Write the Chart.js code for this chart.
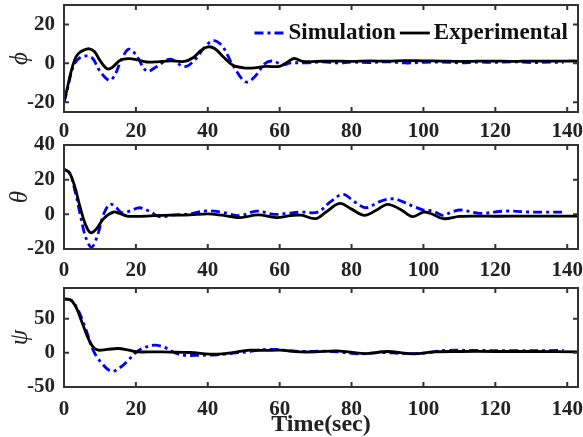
<!DOCTYPE html>
<html>
<head>
<meta charset="UTF-8" />
<title>Attitude angles</title>
<script src="https://cdn.jsdelivr.net/npm/chart.js@4"></script>
<style>
  body { margin: 0; background: #ffffff; }
  #app { position: relative; width: 583px; height: 437px; }
  canvas { position: absolute; left: 0; }
</style>
</head>
<body>
<div id="app">
  <canvas id="chartPhi" width="583" height="140" style="top:0px"></canvas>
  <canvas id="chartTheta" width="583" height="149" style="top:128px"></canvas>
  <canvas id="chartPsi" width="583" height="167" style="top:270px"></canvas>
</div>
<script>
// tick labels
var xTicks = [0, 20, 40, 60, 80, 100, 120, 140];
var phiTicks = [-20, 0, 20];
var thetaTicks = [-20, 0, 20, 40];
var psiTicks = [-50, 0, 50];

var seriesNames = ['Simulation', 'Experimental'];

// phi
var phiSimT = [0, 1, 2, 3, 4.5, 6.5, 8, 10, 12.5, 14, 16, 18, 20, 23, 25.5, 29.5, 33.5, 36.5, 39, 41.5, 44, 47, 50.5, 53, 56, 58, 61, 63, 68, 72, 76, 80, 85, 90, 95, 100, 105, 110, 115, 120, 125, 130, 135, 139];
var phiSim = [-20, -13, -5, 0, 3, 3.8, 2.5, -4, -8.7, -6.5, 2, 7.3, 4.5, -4, -2, 2.2, -1.7, 2, 8, 11.7, 9, -1, -9.5, -7, 0, 1.2, -0.8, 0.2, 0.3, 0.8, 0.2, 0.6, 0.4, 0.8, 0.2, 0.5, 0.7, 0.3, 0.6, 0.5, 0.8, 0.4, 0.6, 0.5];
var phiExpT = [0, 1, 2, 3, 4, 5.5, 7, 8.5, 10, 12, 13.5, 15.5, 18, 20.5, 23, 26, 29.5, 33.5, 36, 38, 40, 42, 44.5, 47, 50, 53, 56, 60, 62, 64, 66.5, 70, 75, 80, 85, 90, 95, 100, 105, 110, 115, 120, 125, 130, 135, 140, 143];
var phiExp = [-20, -12, -4, 2, 5, 6.8, 7.5, 6, 1.5, -2.8, -2, 1.5, 2.4, 1.8, 0.7, 0.8, 1.3, 1, 3, 6.5, 8.5, 7.5, 3, -1, -2.3, -2.3, -1.6, -1.5, 0.5, 2.5, 1, 1, 1.2, 1.0, 1.3, 1.1, 1.4, 1.3, 1.2, 1.0, 1.1, 1.2, 1.0, 1.2, 1.1, 1.2, 1.2];

// theta
var thetaSimT = [0, 1.5, 3, 4.5, 6, 7.7, 9.5, 11, 12.8, 14.5, 16, 18.5, 21, 24, 26.7, 30, 35, 39.6, 44, 49, 53.5, 58.5, 62, 66, 70.6, 74, 77.6, 81, 84, 88, 91.5, 94, 97, 100, 102.5, 105.4, 108, 110.5, 115.6, 123, 130, 134, 139];
var thetaSim = [26, 24, 14, 0, -13, -19, -11, 0, 5.8, 4, 1, 2, 3.8, 1.5, -1.5, -0.5, 0.3, 2, 1.2, -0.8, 1.9, 0, 0.6, 1.3, 1.3, 7, 11.5, 7, 3.8, 7.5, 9, 7.5, 4.8, 2.5, 2, -0.6, 1.5, 2.5, 0.6, 1.9, 1.3, 1.3, 1.3];
var thetaExpT = [0, 1.5, 3, 4.5, 6, 7.4, 9, 11, 13.7, 15.5, 17.5, 20, 25, 30, 35, 40, 44, 49, 54, 59, 63, 66, 70, 73, 76.7, 80, 83.6, 87, 90, 93.5, 97, 100, 102, 105.5, 110, 115, 120, 130, 138, 143];
var thetaExp = [26, 24, 16, 4, -6, -10.6, -8.5, -2.5, 1.3, 0.5, -1, -1.2, -0.8, -0.5, -0.3, 0.3, -0.5, -1.9, -0.3, -1.9, -0.8, -0.5, -2.5, 1.5, 6.3, 3, -0.6, 2.5, 5.8, 3, -1.3, 1.3, 0.5, -2.5, -1.2, -1.0, -1.1, -1.0, -1.0, -1.0];

// psi
var psiSimT = [0, 2, 3.5, 5, 6.5, 8, 10, 13.2, 16, 18, 20.2, 22.5, 25.3, 28, 30.5, 33.1, 38, 42.4, 47, 51, 55, 59, 63, 67, 72, 76, 82, 88, 95, 100, 106, 115, 125, 139];
var psiSim = [79, 77, 67, 50, 28, 5, -12, -27, -20, -10, 1.5, 8, 11.3, 8, 1, -3.4, -3.5, -3, -0.5, 1.5, 4.5, 5, 3, 2, 2.5, 1.5, -1.5, 0.5, -1, -0.5, 3.5, 3.5, 3.2, 3.5];
var psiExpT = [0, 2, 3.5, 5, 6.5, 8, 9.5, 12, 15, 18, 20.2, 25, 30, 35, 42.4, 47, 51.7, 56, 60, 65.6, 70, 76, 83.6, 90, 97, 103, 110, 120, 130, 143];
var psiExp = [79, 77, 65, 45, 24, 9, 4, 5, 6.4, 4, 1.5, 1.5, 1.2, 0.5, -2, 0.5, 4, 3.5, 4, 1.5, 1.5, 3, -1, 2, -1.5, 1.5, 2, 2, 2, 1.5];

var serif = "'Liberation Serif', 'Times New Roman', serif";
var inkColor = '#222222';
var frameColor = '#333333';

function pts(t, v) {
  return t.map(function (x, i) { return { x: x, y: v[i] }; });
}

// box round the plot with ticks pointing inward on all four sides
var framePlugin = {
  id: 'frame',
  afterDraw: function (chart) {
    var ctx = chart.ctx, a = chart.chartArea;
    var xs = chart.scales.x, ys = chart.scales.y;
    ctx.save();
    ctx.strokeStyle = frameColor;
    ctx.lineWidth = 2;
    ctx.beginPath();
    xs.ticks.forEach(function (t) {
      var px = xs.getPixelForValue(t.value);
      ctx.moveTo(px, a.bottom); ctx.lineTo(px, a.bottom - 5);
      ctx.moveTo(px, a.top); ctx.lineTo(px, a.top + 5);
    });
    ys.ticks.forEach(function (t) {
      var py = ys.getPixelForValue(t.value);
      ctx.moveTo(a.left, py); ctx.lineTo(a.left + 5, py);
      ctx.moveTo(a.right, py); ctx.lineTo(a.right - 5, py);
    });
    ctx.stroke();
    ctx.strokeRect(a.left, a.top, a.right - a.left, a.bottom - a.top);
    ctx.restore();
  }
};

// legend drawn inside the first panel, top right, no box
var insideLegend = {
  id: 'insideLegend',
  afterDraw: function (chart) {
    var ctx = chart.ctx, a = chart.chartArea;
    var ds = chart.data.datasets;
    ctx.save();
    ctx.font = 'bold 23px ' + serif;
    ctx.textBaseline = 'middle';
    ctx.fillStyle = '#111111';
    var y = a.top + 28;
    var x = a.right - 10;
    var lineLen = 30, gap = 4;
    // right to left: Experimental, then Simulation
    [ds[0], ds[1]].forEach(function (d) {
      var w = ctx.measureText(d.label).width;
      x -= w;
      ctx.fillText(d.label, x, y);
      x -= gap;
      ctx.beginPath();
      ctx.strokeStyle = d.borderColor;
      ctx.lineWidth = 2.8;
      ctx.setLineDash(d.borderDash || []);
      ctx.moveTo(x - lineLen, y);
      ctx.lineTo(x, y);
      ctx.stroke();
      ctx.setLineDash([]);
      x -= lineLen + gap;
    });
    ctx.restore();
  }
};

function makeChart(id, sim, exp, yMin, yMax, yTicks, yLabel, opt) {
  var xScale = {
    type: 'linear',
    min: 0,
    max: 143,
    grid: { display: false, drawTicks: false },
    border: { display: false },
    afterBuildTicks: function (s) { s.ticks = xTicks.map(function (v) { return { value: v }; }); },
    afterFit: function (s) { s.height = opt.xHeight; s.paddingLeft = 0; s.paddingRight = 0; },
    ticks: {
      font: { family: serif, size: 21, weight: 'bold' },
      color: inkColor,
      padding: opt.xPad,
      maxRotation: 0,
      autoSkip: false
    }
  };
  if (opt.xTitle) {
    xScale.title = {
      display: true,
      text: opt.xTitle,
      font: { family: serif, size: 24, weight: 'bold' },
      color: inkColor,
      padding: { top: 0, bottom: -2 }
    };
  }
  return new Chart(document.getElementById(id), {
    type: 'line',
    data: {
      datasets: [{
        label: seriesNames[1],
        data: exp,
        borderColor: '#000000',
        borderWidth: 2.8,
        pointRadius: 0,
        tension: 0.35,
        fill: false
      }, {
        label: seriesNames[0],
        data: sim,
        borderColor: '#0000ff',
        borderWidth: 2.8,
        borderDash: [9, 4, 3, 4],
        pointRadius: 0,
        tension: 0.35,
        fill: false
      }]
    },
    options: {
      responsive: false,
      animation: false,
      devicePixelRatio: 1,
      layout: { padding: { top: opt.padTop, right: 5, left: 0, bottom: 0 } },
      plugins: { legend: { display: false }, tooltip: { enabled: false } },
      scales: {
        x: xScale,
        y: {
          type: 'linear',
          min: yMin,
          max: yMax,
          grid: { display: false, drawTicks: false },
          border: { display: false },
          afterBuildTicks: function (s) { s.ticks = yTicks.map(function (v) { return { value: v }; }); },
          afterFit: function (s) { s.width = 64; s.paddingTop = 0; s.paddingBottom = 0; },
          ticks: {
            font: { family: serif, size: 21, weight: 'bold' },
            color: inkColor,
            padding: 9
          },
          title: {
            display: true,
            text: yLabel,
            font: { family: serif, size: 25, style: 'italic' },
            color: inkColor,
            padding: { top: 5 }
          }
        }
      }
    },
    plugins: opt.legend ? [framePlugin, insideLegend] : [framePlugin]
  });
}

makeChart('chartPhi', pts(phiSimT, phiSim), pts(phiExpT, phiExp), -25, 30, phiTicks, 'ϕ',
  { padTop: 5, xHeight: 28, xPad: 7, legend: true });
makeChart('chartTheta', pts(thetaSimT, thetaSim), pts(thetaExpT, thetaExp), -20, 40, thetaTicks, 'θ',
  { padTop: 17, xHeight: 28, xPad: 9 });
makeChart('chartPsi', pts(psiSimT, psiSim), pts(psiExpT, psiExp), -50, 95, psiTicks, 'ψ',
  { padTop: 18, xHeight: 50, xPad: 10, xTitle: 'Time(sec)' });
</script>
</body>
</html>
